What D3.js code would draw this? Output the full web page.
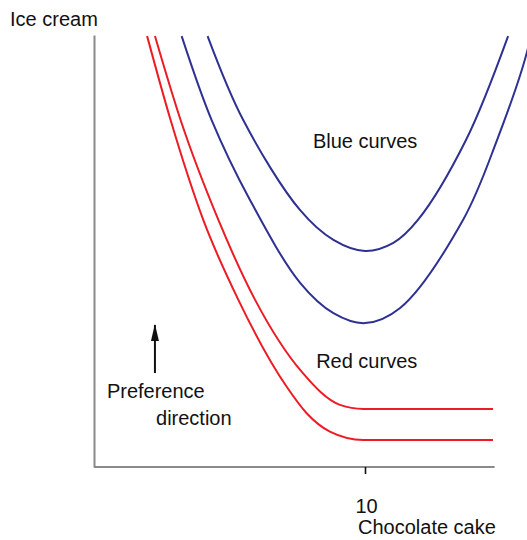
<!DOCTYPE html>
<html>
<head>
<meta charset="utf-8">
<script src="https://cdn.jsdelivr.net/npm/d3@7"></script>
<style>
  body { margin: 0; background: #fff; }
  text { font-family: "Liberation Sans", Arial, sans-serif; font-size: 20px; fill: #111; }
</style>
</head>
<body>
<svg id="chart" width="527" height="540"></svg>
<script>
// indifference curves, points (x = chocolate cake, y = ice cream)
const blueUpper = [[4.17, 15.96], [5.49, 12.85], [7.59, 9.52], [8.83, 8.41], [10, 8.0],
  [11.05, 8.30], [11.96, 9.15], [13.74, 12.11], [15.30, 15.96]]
const blueLower = [[3.21, 15.96], [4.32, 12.85], [5.74, 9.89], [7.59, 6.83], [8.83, 5.70],
  [10, 5.33], [11.30, 5.89], [13.63, 9.15], [14.89, 12.11], [16.0, 15.37], [16.11, 15.96]]
const redUpper = [[2.22, 15.96], [3.17, 12.85], [4.57, 9.15], [5.93, 6.19], [7.66, 3.52],
  [9.07, 2.30], [9.94, 2.15], [12.41, 2.15], [14.74, 2.15]]
const redLower = [[1.93, 15.96], [2.80, 12.85], [4.01, 9.15], [5.31, 6.19], [7.10, 2.97],
  [7.84, 1.99], [8.70, 1.31], [9.94, 1.0], [12.41, 1.0], [14.74, 1.0]]

const xTicks = [10]
const xLabel = "Chocolate cake"
const yLabel = "Ice cream"

// annotations [x, y, text]
const notes = [[8.07, 11.81, "Blue curves"], [8.19, 3.67, "Red curves"],
  [0.44, 2.56, "Preference"], [2.26, 1.56, "direction"]]
const arrow = [[2.22, 3.48], [2.22, 5.26]]

const svg = d3.select("#chart")

const x = d3.scaleLinear().domain([0, 14.8]).range([95, 494.6])
const y = d3.scaleLinear().domain([0, 16]).range([467, 35])

// axes
const gx = svg.append("g")
  .attr("transform", "translate(0," + y(0) + ")")
  .call(d3.axisBottom(x).tickValues(xTicks).tickSizeInner(7).tickSizeOuter(0).tickPadding(25))
gx.select(".domain").attr("stroke", "#8a8a8a").attr("stroke-width", 2).attr("d", "M94,0H494.6")
gx.selectAll(".tick line").attr("stroke", "#111").attr("stroke-width", 1.6)
gx.selectAll(".tick text").attr("font-size", null).attr("font-family", null).attr("dx", "1")

const gy = svg.append("g")
  .attr("transform", "translate(94,0)")
  .call(d3.axisLeft(y).tickValues([]).tickSizeOuter(0))
gy.select(".domain").attr("stroke", "#8a8a8a").attr("stroke-width", 2)

// curves: blue ones are U shaped, red ones fall then flatten
const blueLine = d3.line()
  .x(d => x(d[0]))
  .y(d => y(d[1]))
  .curve(d3.curveCatmullRom.alpha(0.5))
const redLine = d3.line()
  .x(d => x(d[0]))
  .y(d => y(d[1]))
  .curve(d3.curveMonotoneX)

const curves = [[blueUpper, "#2e3192", blueLine], [blueLower, "#2e3192", blueLine],
  [redUpper, "#ed1c24", redLine], [redLower, "#ed1c24", redLine]]

svg.selectAll("path.curve")
  .data(curves)
  .enter().append("path")
  .attr("class", "curve")
  .attr("d", d => d[2](d[0]))
  .attr("fill", "none")
  .attr("stroke", d => d[1])
  .attr("stroke-width", 2)

// arrow
svg.append("defs").append("marker")
  .attr("id", "head")
  .attr("viewBox", "0 0 17 8")
  .attr("refX", 16).attr("refY", 4)
  .attr("markerWidth", 17).attr("markerHeight", 8)
  .attr("markerUnits", "userSpaceOnUse")
  .attr("orient", "auto")
  .append("path").attr("d", "M0,0L17,4L0,8Z").attr("fill", "#111")

svg.append("line")
  .attr("x1", x(arrow[0][0])).attr("y1", y(arrow[0][1]))
  .attr("x2", x(arrow[1][0])).attr("y2", y(arrow[1][1]))
  .attr("stroke", "#111").attr("stroke-width", 2)
  .attr("marker-end", "url(#head)")

// labels
svg.selectAll("text.note")
  .data(notes)
  .enter().append("text")
  .attr("class", "note")
  .attr("x", d => x(d[0]))
  .attr("y", d => y(d[1]))
  .text(d => d[2])

svg.append("text").attr("x", 10).attr("y", 26).text(yLabel)
svg.append("text").attr("x", 358).attr("y", 534).text(xLabel)
</script>
</body>
</html>
